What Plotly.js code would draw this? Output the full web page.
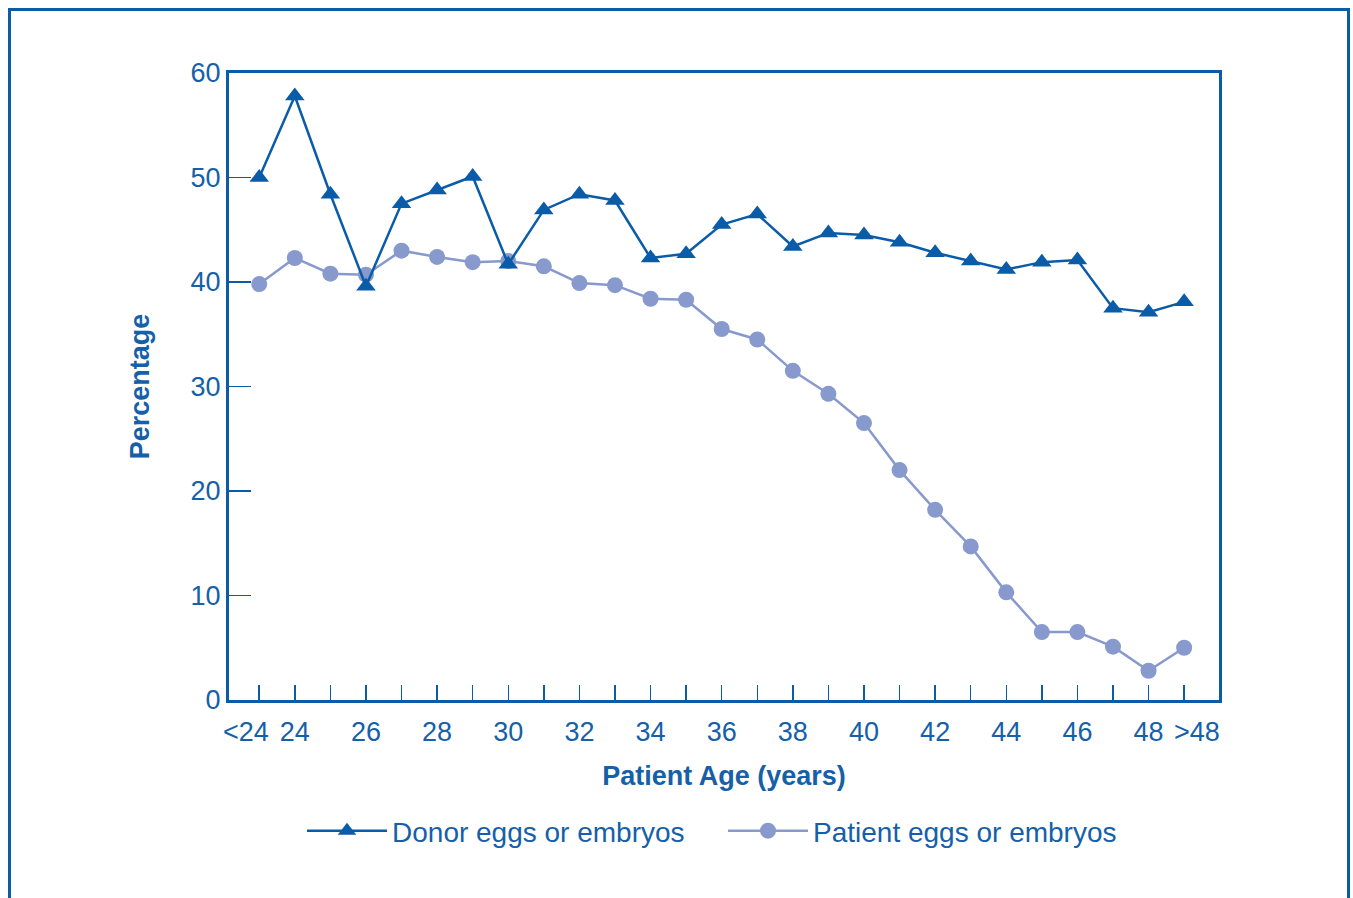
<!DOCTYPE html>
<html>
<head>
<meta charset="utf-8">
<script src="https://cdn.plot.ly/plotly-3.0.1.min.js"></script>
<style>
  html, body { margin: 0; padding: 0; background: #fff; overflow: hidden; }
  #frame { position: absolute; left: 8px; top: 8px; width: 1342px; height: 960px;
           border: 3px solid #0b5ca8; box-sizing: border-box; pointer-events: none; z-index: 5; }
  #chart { position: absolute; left: 0; top: 0; width: 1353px; height: 898px; }
</style>
</head>
<body>
<div id="chart"></div>
<div id="frame"></div>
<script>
// ---- data ----
const categories = ['<24','24','25','26','27','28','29','30','31','32','33','34','35','36',
                    '37','38','39','40','41','42','43','44','45','46','47','48','>48'];
const tickLabels = ['<24','24','','26','','28','','30','','32','','34','','36',
                    '','38','','40','','42','','44','','46','','48','>48'];
const donorValues = [50.0, 57.8, 48.4, 39.6, 47.5, 48.8, 50.1, 41.7, 46.9, 48.4, 47.8, 42.3, 42.7,
                     45.5, 46.5, 43.4, 44.7, 44.5, 43.8, 42.8, 42.0, 41.2, 41.9, 42.1, 37.5, 37.1, 38.1];
const patientValues = [39.8, 42.3, 40.8, 40.7, 43.0, 42.4, 41.9, 42.0, 41.5, 39.9, 39.7, 38.4, 38.3,
                       35.5, 34.5, 31.5, 29.3, 26.5, 22.0, 18.2, 14.7, 10.3, 6.5, 6.5, 5.1, 2.8, 5.0];
const yTickValues = [0, 10, 20, 30, 40, 50, 60];
const seriesNames = ['Donor eggs or embryos', 'Patient eggs or embryos'];

const DARK = '#0b5ca8';
const LIGHT = '#8799cd';
const TEXT = '#1560a8';
const FONT = 'Liberation Sans, Arial, Helvetica, sans-serif';

const xIdx = categories.map((c, i) => i);
const lastIdx = tickLabels.length - 1;
// the two end labels are nudged outward (as in the reference) via annotations
const tickText = tickLabels.map((t, i) => (i === 0 || i === lastIdx) ? '' : t);
const endLabels = [0, lastIdx].map(i => ({
  x: i, xref: 'x', y: 0, yref: 'paper', yanchor: 'top', yshift: -15,
  xanchor: 'center', xshift: i === 0 ? -13 : 13,
  text: tickLabels[i].replace('<', '&lt;').replace('>', '&gt;'),
  showarrow: false, font: { family: FONT, size: 27, color: TEXT }
}));

const traces = [
  {
    x: xIdx, y: patientValues, name: seriesNames[1], type: 'scatter', mode: 'lines+markers',
    line: { color: LIGHT, width: 2.5 },
    marker: { symbol: 'circle', size: 16, color: LIGHT }
  },
  {
    x: xIdx, y: donorValues, name: seriesNames[0], type: 'scatter', mode: 'lines+markers',
    line: { color: DARK, width: 2.5 },
    marker: { symbol: 'triangle-up', size: 17, color: DARK }
  }
];

const layout = {
  width: 1353, height: 898,
  margin: { l: 229, r: 134, t: 73, b: 198 },
  paper_bgcolor: '#fff', plot_bgcolor: '#fff',
  font: { family: FONT, color: TEXT, size: 27 },
  showlegend: true,
  legend: {
    orientation: 'h', x: 0.499, xanchor: 'center', y: -0.169, yanchor: 'top',
    font: { family: FONT, size: 28, color: TEXT },
    traceorder: 'reversed', itemwidth: 80, entrywidthmode: 'pixels', entrywidth: 326,
    bgcolor: 'rgba(0,0,0,0)'
  },
  annotations: endLabels,
  xaxis: {
    range: [-0.85, 26.98], tickmode: 'array', tickvals: xIdx, ticktext: tickText, tickangle: 0,
    ticks: 'inside', ticklen: 15, tickwidth: 1.5, tickcolor: DARK, ticklabelstandoff: 6,
    showline: true, linecolor: DARK, linewidth: 3, mirror: true,
    showgrid: false, zeroline: false, fixedrange: true,
    tickfont: { family: FONT, size: 27, color: TEXT },
    title: { text: 'Patient Age (years)', font: { family: FONT, size: 27, color: TEXT, weight: 'bold' }, standoff: 20 }
  },
  yaxis: {
    range: [0, 60], tickmode: 'array', tickvals: yTickValues,
    ticks: 'inside', ticklen: 22, tickwidth: 1.5, tickcolor: DARK,
    showline: true, linecolor: DARK, linewidth: 3, mirror: true,
    showgrid: false, zeroline: false, fixedrange: true,
    tickfont: { family: FONT, size: 27, color: TEXT },
    title: { text: 'Percentage', font: { family: FONT, size: 27, color: TEXT, weight: 'bold' }, standoff: 34 }
  }
};

Plotly.newPlot('chart', traces, layout, { displayModeBar: false, staticPlot: true });
</script>
</body>
</html>
